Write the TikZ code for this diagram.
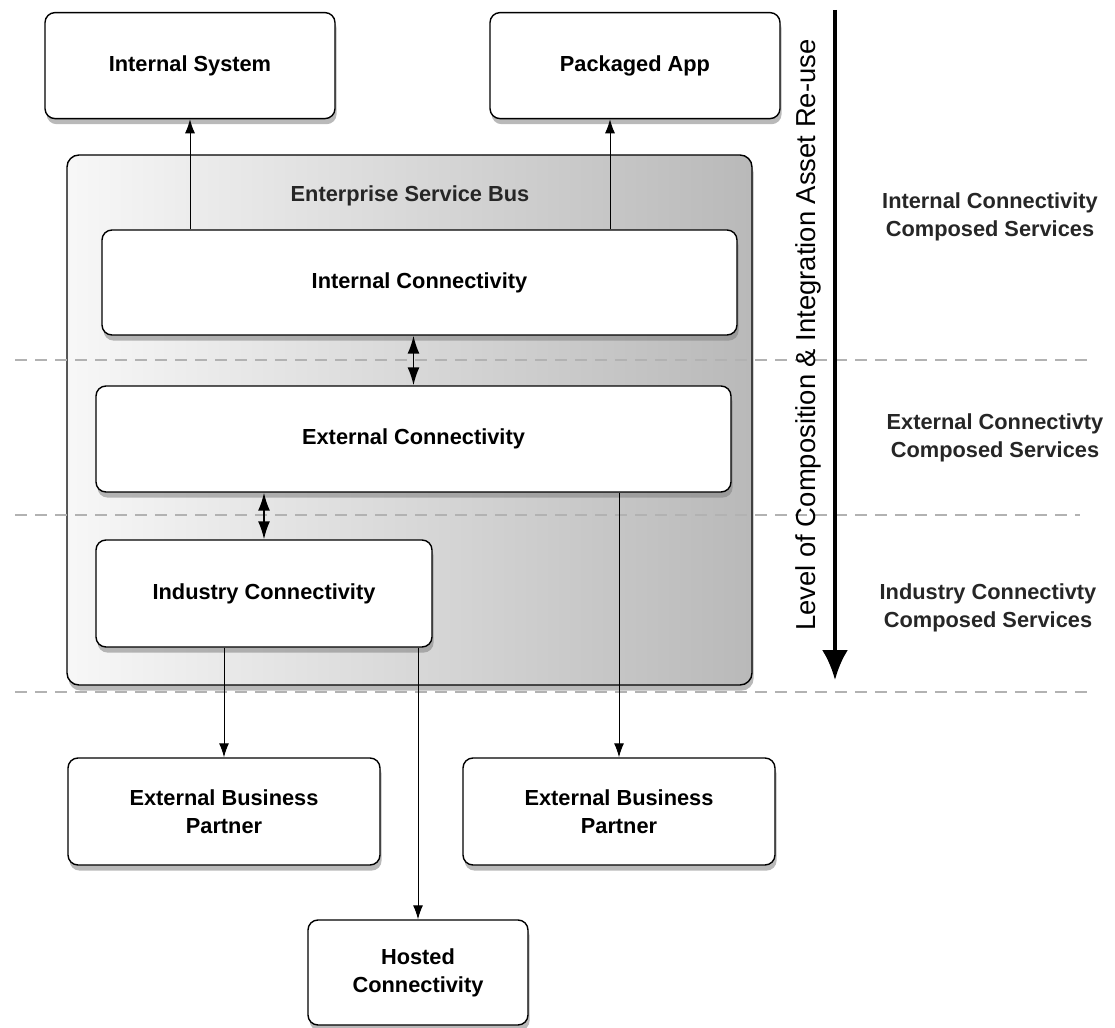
\documentclass[tikz,border=0pt]{standalone}
\usepackage{fontspec}
\setmainfont{Liberation Sans}
\usepackage{tikz}
\usetikzlibrary{shapes,arrows,arrows.meta,shadows}
\tikzstyle{block} = [rectangle, draw, fill=white, line width=1pt, align=center,
    rounded corners=2.5mm, drop shadow={opacity=0.55, shadow xshift=0.4mm, shadow yshift=-1.4mm},
    font=\fontsize{15.5}{20}\selectfont\bfseries, minimum height=2.65cm]
\tikzstyle{bus} = [rectangle, draw, line width=1pt, rounded corners=3mm,
    left color=gray!6, right color=gray!55,
    drop shadow={opacity=0.55, shadow xshift=0.4mm, shadow yshift=-1.4mm}]
\tikzstyle{tag} = [font=\fontsize{15.5}{20}\selectfont\bfseries, align=center, text=black!85]
\tikzstyle{line} = [draw, line width=0.7pt, -{Latex[length=3.5mm,width=2.5mm]}]
\tikzstyle{dline} = [draw, line width=1.2pt, {Latex[length=4.5mm,width=3mm]}-{Latex[length=4.5mm,width=3mm]}]
\tikzstyle{level} = [draw, gray!60, dashed, dash pattern=on 3mm off 2mm, line width=0.8pt]

\begin{document}
\begin{tikzpicture}
    \useasboundingbox (0,0) rectangle (27.875,-25.7);
    % Place nodes
    \node [block, minimum width=7.25cm] (intsys) at (4.75,-1.64) {Internal System};
    \node [block, minimum width=7.25cm] (pkgapp) at (15.875,-1.64) {Packaged App};
    \node [bus, minimum width=17.125cm, minimum height=13.25cm] (esb) at (10.2375,-10.5) {};
    \node [tag] (esblabel) at (10.25,-4.9) {Enterprise Service Bus};
    % Levels
    \draw [level] (0.375,-9.0) -- (27.25,-9.0);
    \draw [level] (0.375,-12.875) -- (27.0,-12.875);
    \draw [level] (0.375,-17.3) -- (27.25,-17.3);
    \node [block, minimum width=15.875cm, minimum height=2.625cm] (intconn) at (10.4875,-7.0625) {Internal Connectivity};
    \node [block, minimum width=15.875cm] (extconn) at (10.3375,-10.975) {External Connectivity};
    \node [block, minimum width=8.4cm, minimum height=2.675cm] (indconn) at (6.6,-14.8375) {Industry Connectivity};
    \node [block, minimum width=7.8cm, minimum height=2.675cm] (ebpleft) at (5.6,-20.2875) {External Business\\Partner};
    \node [block, minimum width=7.8cm, minimum height=2.675cm] (ebpright) at (15.475,-20.2875) {External Business\\Partner};
    \node [block, minimum width=5.5cm, minimum height=2.625cm] (hosted) at (10.45,-24.3125) {Hosted\\Connectivity};
    % Reuse axis
    \coordinate (axistop) at (20.875,-0.25);
    \coordinate (axisend) at (20.875,-17.0);
    \draw [line width=2.8pt, -{Latex[length=7.5mm,width=6.5mm]}] (axistop) -- (axisend);
    \node [rotate=90, font=\fontsize{19.5}{22}\selectfont] (axislabel) at (20.2,-8.375)
        {Level of Composition \& Integration Asset Re-use};
    \node [tag] (inttag) at (24.75,-5.425) {Internal Connectivity\\Composed Services};
    \node [tag] (exttag) at (24.875,-10.95) {External Connectivty\\Composed Services};
    \node [tag] (indtag) at (24.7,-15.2) {Industry Connectivty\\Composed Services};
    % Draw edges
    \path [line] (intconn.north -| intsys.south) -- (intsys.south);
    \path [line] ([xshift=-6.25mm]pkgapp.south |- intconn.north) -- ([xshift=-6.25mm]pkgapp.south);
    \path [dline] ([xshift=-1.5mm]intconn.south) -- ([xshift=-1.5mm]intconn.south |- extconn.north);
    \path [dline] (indconn.north |- extconn.south) -- (indconn.north);
    \path [line] (indconn.south -| ebpleft.north) -- (ebpleft.north);
    \path [line] (indconn.south -| hosted.north) -- (hosted.north);
    \path [line] (extconn.south -| ebpright.north) -- (ebpright.north);
\end{tikzpicture}
\end{document}
